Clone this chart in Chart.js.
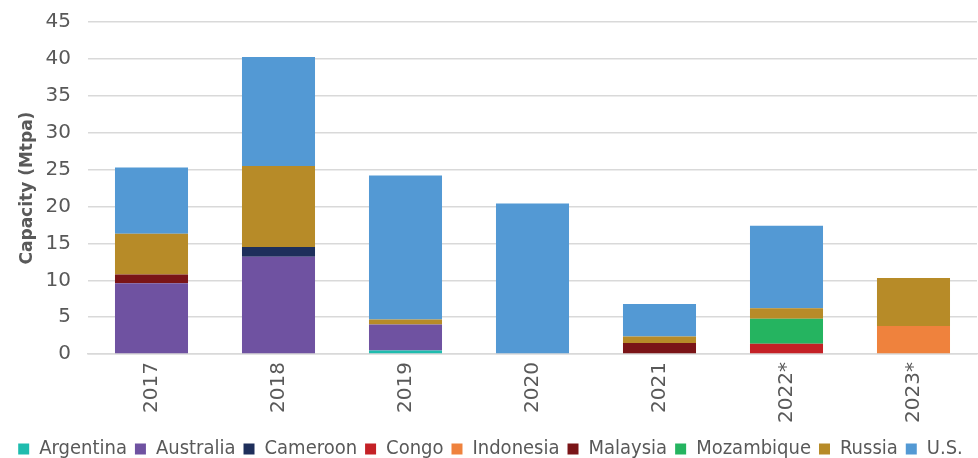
<!DOCTYPE html>
<html>
<head>
<meta charset="utf-8">
<script src="https://cdn.jsdelivr.net/npm/chart.js@4"></script>
<style>
  html, body { margin: 0; padding: 0; background: #fff; }
  #wrap { width: 978px; height: 458px; position: relative; }
</style>
</head>
<body>
<div id="wrap"><canvas id="barChart"></canvas></div>
<script>
const years = ["2017", "2018", "2019", "2020", "2021", "2022*", "2023*"];
const yTicks = [0, 5, 10, 15, 20, 25, 30, 35, 40, 45];

const argentina = [0, 0, 0.5, 0, 0, 0, 0];
const australia = [9.6, 13.2, 3.5, 0, 0, 0, 0];
const cameroon = [0, 1.3, 0, 0, 0, 0, 0];
const congo = [0, 0, 0, 0, 0, 1.4, 0];
const indonesia = [0, 0, 0, 0, 0, 0, 3.8];
const malaysia = [1.2, 0, 0, 0, 1.5, 0, 0];
const mozambique = [0, 0, 0, 0, 0, 3.4, 0];
const russia = [5.5, 11.0, 0.7, 0, 0.9, 1.4, 6.5];
const us = [9.0, 14.75, 19.5, 20.4, 4.4, 11.2, 0];

const seriesNames = ["Argentina", "Australia", "Cameroon", "Congo", "Indonesia", "Malaysia", "Mozambique", "Russia", "U.S."];
const seriesData = [argentina, australia, cameroon, congo, indonesia, malaysia, mozambique, russia, us];
const seriesColors = ["#1fbcae", "#6f52a1", "#1e2f5b", "#c42126", "#ef823d", "#7a1417", "#25b460", "#b78b28", "#5399d4"];

const textColor = "#595959";

const ctx = document.getElementById("barChart").getContext("2d");
const chart = new Chart(ctx, {
  type: "bar",
  data: {
    labels: years,
    datasets: seriesNames.map((name, i) => ({
      label: name,
      data: seriesData[i],
      backgroundColor: seriesColors[i],
      borderWidth: 0,
      categoryPercentage: 1,
      barPercentage: 0.575,
    })),
  },
  options: {
    responsive: true,
    maintainAspectRatio: false,
    animation: false,
    layout: { padding: { top: 22, right: 1, left: 4, bottom: -11 } },
    plugins: {
      tooltip: { enabled: false },
      legend: {
        position: "bottom",
        labels: {
          boxWidth: 11,
          boxHeight: 11,
          padding: 8,
          color: textColor,
          font: { family: "'DejaVu Sans Condensed', 'DejaVu Sans', sans-serif", size: 20 },
        },
      },
    },
    scales: {
      x: {
        stacked: true,
        grid: { display: false, drawTicks: false },
        border: { color: "#d9d9d9", width: 1.5 },
        ticks: {
          color: textColor,
          font: { family: "'DejaVu Sans', sans-serif", size: 20 },
          minRotation: 90,
          maxRotation: 90,
          padding: 8,
        },
      },
      y: {
        stacked: true,
        min: 0,
        max: 45,
        afterBuildTicks: (axis) => {
          axis.ticks = yTicks.map((v) => ({ value: v }));
        },
        afterFit: (axis) => {
          axis.width = 84;
          axis.paddingTop = 0;
          axis.paddingBottom = 0;
        },
        grid: { color: "#d9d9d9", lineWidth: 1.5, drawTicks: false },
        border: { display: false },
        ticks: {
          color: textColor,
          font: { family: "'DejaVu Sans', sans-serif", size: 20 },
          padding: 17,
        },
        title: {
          display: true,
          text: "Capacity (Mtpa)",
          color: textColor,
          font: { family: "'DejaVu Sans', sans-serif", size: 17, weight: "bold" },
          padding: { top: 13, bottom: 4 },
        },
      },
    },
  },
});
</script>
</body>
</html>
